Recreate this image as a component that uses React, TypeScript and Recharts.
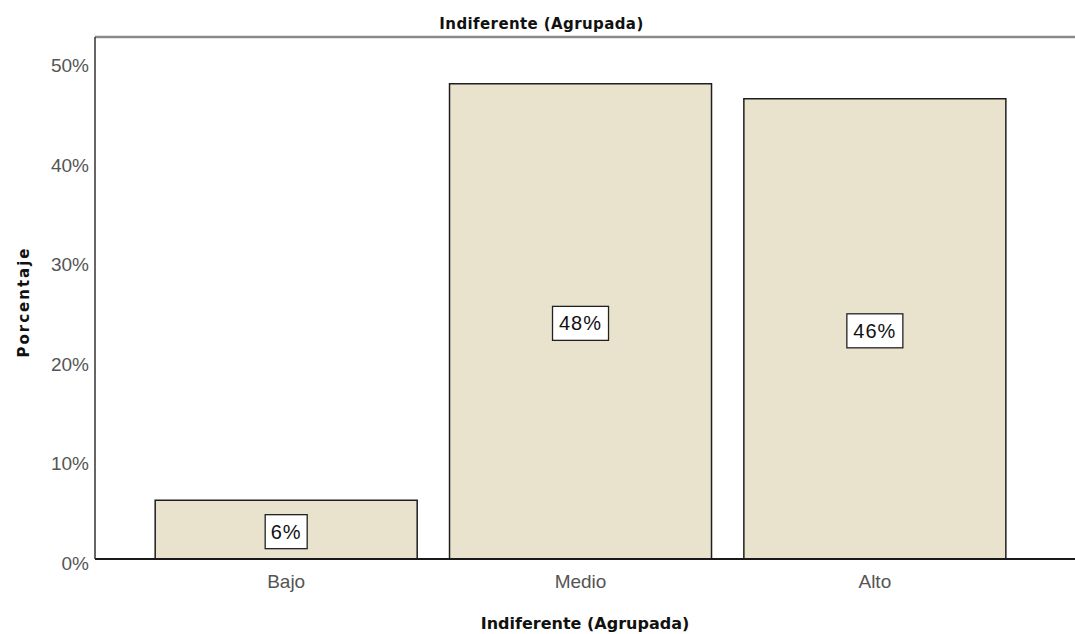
import React from "react";
import { BarChart, Bar, XAxis, YAxis, LabelList, ReferenceLine } from "recharts";

const CHART_W = 1075;
const CHART_H = 634;

const categories = ["Bajo", "Medio", "Alto"];
const percentages = [5.9, 47.8, 46.3];
const yTicks = [0, 10, 20, 30, 40, 50];
const yMax = 52.5;

const chartTitle = "Indiferente (Agrupada)";
const xTitle = "Indiferente (Agrupada)";
const yTitle = "Porcentaje";

const data = categories.map((name, i) => ({ name, value: percentages[i] }));

const SANS = "'Liberation Sans', Arial, sans-serif";
const BOLD = "'DejaVu Sans', Verdana, sans-serif";

const TitleLabel = (props: any) => {
    const y = props.viewBox ? props.viewBox.y : 37;
    return (
        <text x={CHART_W / 2 + 4} y={y - 13} textAnchor="middle" dominantBaseline="central"
            fontFamily={BOLD} fontWeight="bold" fontSize={15} letterSpacing={0.4} fill="#111">
            {chartTitle}
        </text>
    );
};

const XTitle = (props: any) => {
    const vb = props.viewBox || { x: 95, y: 559, width: 980 };
    return (
        <text x={vb.x + vb.width / 2} y={vb.y + 64} textAnchor="middle" dominantBaseline="central"
            fontFamily={BOLD} fontWeight="bold" fontSize={16} fill="#111">
            {xTitle}
        </text>
    );
};

const YTitle = (props: any) => {
    const vb = props.viewBox || { x: 0, y: 37, width: 95, height: 522 };
    const cx = vb.x + 24;
    const cy = vb.y + vb.height / 2 + 4;
    return (
        <text x={cx} y={cy} transform={`rotate(-90, ${cx}, ${cy})`} textAnchor="middle"
            dominantBaseline="central" fontFamily={BOLD} fontWeight="bold" fontSize={15}
            letterSpacing={2} fill="#111">
            {yTitle}
        </text>
    );
};

const YTick = ({ x, y, payload }: any) => (
    <text x={x} y={y + 4} textAnchor="end" dominantBaseline="central"
        fontFamily={SANS} fontSize={19} fill="#555">
        {`${payload.value}%`}
    </text>
);

// white boxed percentage in the middle of each bar
const ValueBox = ({ x, y, width, height, value }: any) => {
    const label = `${Math.round(Number(value))}%`;
    const cx = Number(x) + Number(width) / 2;
    const cy = Number(y) + Number(height) / 2 + 2;
    const boxW = label.length * 14 + 14;
    const boxH = 34;
    return (
        <g>
            <rect x={cx - boxW / 2} y={cy - boxH / 2} width={boxW} height={boxH}
                fill="#fff" stroke="#222" strokeWidth={1.3} />
            <text x={cx} y={cy} textAnchor="middle" dominantBaseline="central"
                fontFamily={SANS} fontSize={20} letterSpacing={1} fill="#111">
                {label}
            </text>
        </g>
    );
};

export default function App() {
    return (
        <div style={{ position: "absolute", left: 0, top: 0, background: "#fff" }}>
            <BarChart width={CHART_W} height={CHART_H} data={data}
                margin={{ top: 37, right: 0, bottom: 0, left: 0 }} barCategoryGap="5.5%">
                <ReferenceLine y={yMax} stroke="#8a8a8a" strokeWidth={2.5} label={<TitleLabel />} />
                <XAxis dataKey="name" height={75} padding={{ left: 44, right: 53 }}
                    axisLine={{ stroke: "#1a1a1a", strokeWidth: 2 }} tickLine={false}
                    tickSize={0} tickMargin={16}
                    tick={{ fontSize: 19, fill: "#555", fontFamily: SANS }}
                    label={<XTitle />} />
                <YAxis width={95} domain={[0, yMax]} ticks={yTicks} allowDataOverflow
                    axisLine={{ stroke: "#333", strokeWidth: 1.5 }} tickLine={false}
                    tickSize={0} tickMargin={6} tick={<YTick />} label={<YTitle />} />
                <Bar dataKey="value" fill="#E9E3CE" stroke="#1e1e1e" strokeWidth={1.5}
                    isAnimationActive={false}>
                    <LabelList dataKey="value" content={<ValueBox />} />
                </Bar>
            </BarChart>
        </div>
    );
}
